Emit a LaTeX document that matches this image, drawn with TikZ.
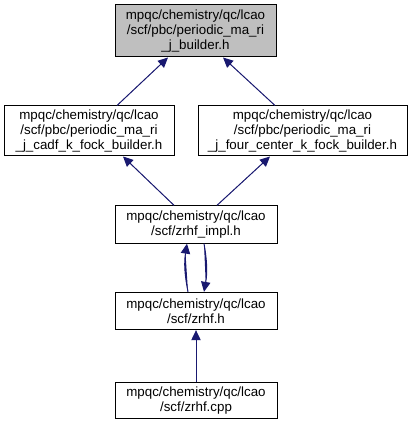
\documentclass[tikz,border=0pt]{standalone}
\usepackage{fontspec}
\setmainfont{Liberation Sans}
\usetikzlibrary{
    arrows.meta,      % arrow tips
    calc              % coordinate offsets
}
\definecolor{edgeblue}{HTML}{191970}
\definecolor{curgray}{HTML}{BFBFBF}

\begin{document}
\begin{tikzpicture}[
        x=0.75pt, y=-0.75pt,
        file/.style={
            rectangle,
            draw=black,
            line width=0.75pt,
            minimum width=#1*0.75pt,
            inner sep=1pt,
            align=center,
            fill=white,
            font=\fontsize{10}{11}\selectfont
        },
        file/.default=162,
        inc/.style={
            <-,
            >={Triangle[length=7.5pt,width=7pt]},
            draw=edgeblue,
            fill=edgeblue,
            line width=0.75pt
        }
    ]
    \useasboundingbox (0,0) rectangle (413,423);

    % header at the top
    \node[file=161, fill=curgray, minimum height=39pt] (top) at (195.5,31)
        {mpqc/chemistry/qc/lcao\\/scf/pbc/periodic\_ma\_ri\\\_j\_builder.h};

    % the two k fock builders
    \node[file=170, minimum height=37.5pt] (cadf) at (89,131)
        {mpqc/chemistry/qc/lcao\\/scf/pbc/periodic\_ma\_ri\\\_j\_cadf\_k\_fock\_builder.h};
    \node[file=209, minimum height=37.5pt] (four) at (302.5,131)
        {mpqc/chemistry/qc/lcao\\/scf/pbc/periodic\_ma\_ri\\\_j\_four\_center\_k\_fock\_builder.h};

    % zrhf files
    \node[file, minimum height=28pt] (impl) at (196,224.5)
        {mpqc/chemistry/qc/lcao\\/scf/zrhf\_impl.h};
    \node[file, minimum height=28pt] (zrhf) at (196,311)
        {mpqc/chemistry/qc/lcao\\/scf/zrhf.h};
    \node[file, minimum height=26.5pt] (cpp) at (196,400.5)
        {mpqc/chemistry/qc/lcao\\/scf/zrhf.cpp};

    % include edges
    \draw[inc] ($(top.south)+(-27.5,0)$) -- ($(cadf.north)+(28,0)$);
    \draw[inc] ($(top.south)+(27.5,0)$) -- ($(four.north)+(-27.5,0)$);
    \draw[inc] ($(cadf.south)+(34,0)$) -- ($(impl.north)+(-22,0)$);
    \draw[inc] ($(four.south)+(-32.5,0)$) -- ($(impl.north)+(21,0)$);
    \draw[inc] ($(impl.south)+(-9,0)$) to[bend right=10] ($(zrhf.north)+(-8,0)$);
    \draw[inc] ($(zrhf.north)+(8,0)$) to[bend right=10] ($(impl.south)+(8,0)$);
    \draw[inc] (zrhf.south) -- (cpp.north);
\end{tikzpicture}
\end{document}
